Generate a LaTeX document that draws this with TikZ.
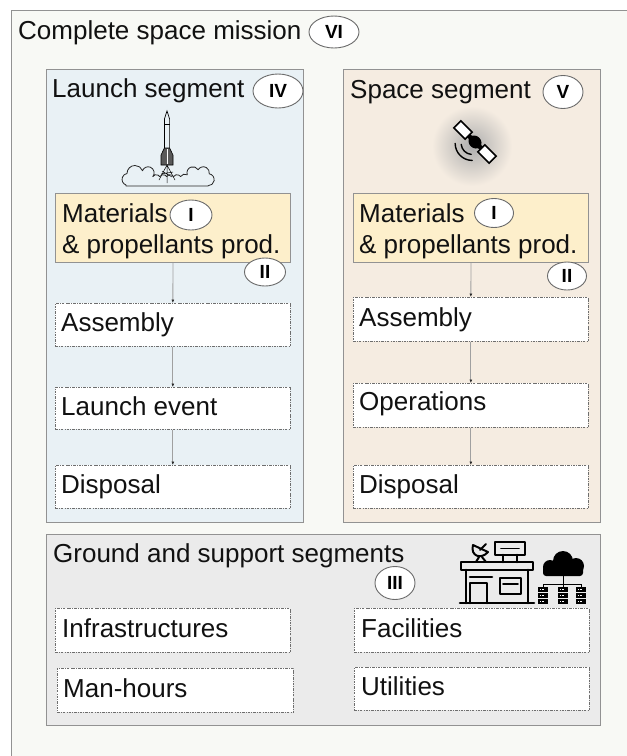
\documentclass[tikz,border=0pt]{standalone}
\usepackage{fontspec}
\setmainfont{Liberation Sans}
\usetikzlibrary{shapes.geometric,arrows.meta}
\definecolor{outerfill}{HTML}{F8F9F5}
\definecolor{launchfill}{HTML}{E9F1F5}
\definecolor{spacefill}{HTML}{F5ECE1}
\definecolor{matfill}{HTML}{FDEFCB}
\definecolor{groundfill}{HTML}{EBEBEB}
\definecolor{framecol}{HTML}{929292}
\definecolor{dashcol}{HTML}{6E6E6E}
\definecolor{txtcol}{HTML}{111111}
\definecolor{ellcol}{HTML}{6A6A6A}
\definecolor{flowcol}{HTML}{A0A0A0}
\tikzset{
  panel/.style={draw=framecol, line width=1.1pt, inner sep=0pt, anchor=north west},
  stepbox/.style={draw=dashcol, fill=white, line width=0.7pt,
    dash pattern=on 2.5pt off 1.2pt on 0.7pt off 1.2pt, inner sep=0pt, anchor=north west},
  lbl/.style={anchor=base west, inner sep=0pt, text=txtcol, font=\fontsize{26}{30}\selectfont},
  rn/.style={ellipse, draw=ellcol, fill=white, line width=0.9pt, inner sep=0pt,
    text=black, font=\fontsize{19}{19}\selectfont\bfseries},
  flow/.style={draw=flowcol, line width=0.8pt, -{Latex[length=3.5pt,width=3pt,color=black!85]}},
  icon/.style={draw=black, line width=2.6pt, line cap=round, line join=round}
}
\begin{document}
\begin{tikzpicture}[x=1pt,y=-1pt]
\useasboundingbox (0,0) rectangle (627,756);
\clip (0,0) rectangle (627,756);
\fill[white] (0,0) rectangle (627,756);

% outer panel
\node[panel, fill=outerfill, minimum width=640pt, minimum height=770pt] (mission) at (11,10) {};
\node[lbl] (tmission) at (18,39) {Complete space mission};
\node[rn, minimum width=50pt, minimum height=32pt] (rVI) at (334,32) {VI};

% launch segment
\node[panel, fill=launchfill, minimum width=257pt, minimum height=453pt] (launch) at (46,69) {};
\node[lbl] (tlaunch) at (52,97) {Launch segment};
\node[rn, minimum width=50pt, minimum height=34pt] (rIV) at (278,91) {IV};

% space segment
\node[panel, fill=spacefill, minimum width=257pt, minimum height=453pt] (space) at (343,69) {};
\node[lbl] (tspace) at (350,98) {Space segment};
\node[rn, minimum width=40pt, minimum height=33pt] (rV) at (563,92) {V};

% ground segment
\node[panel, fill=groundfill, minimum width=554pt, minimum height=191pt] (ground) at (46,534) {};
\node[lbl] (tground) at (53,562) {Ground and support segments};

% materials boxes
\node[panel, fill=matfill, line width=0.9pt, minimum width=235pt, minimum height=69pt] (matL) at (55,193) {};
\node[lbl] (tmatL1) at (62,222) {Materials};
\node[lbl] (tmatL2) at (62,253) {\& propellants prod.};
\node[rn, minimum width=42pt, minimum height=30pt] (rIL) at (191,215) {I};
\node[rn, minimum width=41pt, minimum height=28pt] (rIIL) at (265,272) {II};

\node[panel, fill=matfill, line width=0.9pt, minimum width=235pt, minimum height=69pt] (matR) at (353,193) {};
\node[lbl] (tmatR1) at (359,222) {Materials};
\node[lbl] (tmatR2) at (359,253) {\& propellants prod.};
\node[rn, minimum width=39pt, minimum height=29pt] (rIR) at (494,213) {I};
\node[rn, minimum width=39pt, minimum height=28pt] (rIIR) at (567,276) {II};

% launch steps
\node[stepbox, minimum width=235pt, minimum height=43pt] (asmL) at (55,303) {};
\node[lbl] (tasmL) at (61,331) {Assembly};
\node[stepbox, minimum width=235pt, minimum height=42pt] (evtL) at (55,387) {};
\node[lbl] (tevtL) at (61,415) {Launch event};
\node[stepbox, minimum width=235pt, minimum height=43pt] (dspL) at (55,465) {};
\node[lbl] (tdspL) at (61,493) {Disposal};

% space steps
\node[stepbox, minimum width=235pt, minimum height=44pt] (asmR) at (353,297) {};
\node[lbl] (tasmR) at (359,326) {Assembly};
\node[stepbox, minimum width=235pt, minimum height=44pt] (opsR) at (353,383) {};
\node[lbl] (topsR) at (359,410) {Operations};
\node[stepbox, minimum width=235pt, minimum height=43pt] (dspR) at (353,465) {};
\node[lbl] (tdspR) at (359,493) {Disposal};

% ground items
\node[stepbox, minimum width=235pt, minimum height=44pt] (infra) at (55,608) {};
\node[lbl] (tinfra) at (62,637) {Infrastructures};
\node[stepbox, minimum width=236pt, minimum height=44pt] (manh) at (57,668) {};
\node[lbl] (tmanh) at (63,697) {Man-hours};
\node[stepbox, minimum width=235pt, minimum height=44pt] (facil) at (354,608) {};
\node[lbl] (tfacil) at (361,637) {Facilities};
\node[stepbox, minimum width=235pt, minimum height=43pt] (util) at (354,667) {};
\node[lbl] (tutil) at (361,695) {Utilities};
\node[rn, minimum width=40pt, minimum height=33pt] (rIII) at (395,583) {III};

% flows
\draw[flow] (matL.south) -- (asmL.north);
\draw[flow] (asmL.south) -- (evtL.north);
\draw[flow] (evtL.south) -- (dspL.north);
\draw[flow] (matR.south) -- (asmR.north);
\draw[flow] (asmR.south) -- (opsR.north);
\draw[flow] (opsR.south) -- (dspR.north);

% rocket icon
\begin{scope}[shift={(167,186)}, y=1pt]
  \draw[line width=0.7pt, fill=launchfill] (0,75) -- (2.6,67) -- (2.6,34) -- (-2.6,34) -- (-2.6,67) -- cycle;
  \draw[line width=0.5pt] (-2.6,62) -- (2.6,62);
  \filldraw[fill=black!65, draw=black, line width=0.6pt] (-6,21) -- (-6,31) -- (-2.6,38) -- (2.6,38) -- (6,31) -- (6,21) -- cycle;
  \draw[white, line width=0.4pt] (0,22) -- (0,37);
  \draw[line width=0.5pt] (0,21) -- (-8,6) (0,21) -- (0,3) (0,21) -- (8,6)
     (-6,12) -- (6,14) (-5,15) -- (5,9);
  \draw[line width=0.8pt, draw=black!85, line join=round]
    (-41,1) arc[start angle=250, end angle=100, radius=6]
    arc[start angle=180, end angle=20, radius=8]
    arc[start angle=160, end angle=-40, radius=6]
    arc[start angle=150, end angle=30, radius=4]
    arc[start angle=150, end angle=30, radius=4]
    arc[start angle=150, end angle=30, radius=4]
    arc[start angle=150, end angle=30, radius=4]
    arc[start angle=150, end angle=60, radius=5]
    arc[start angle=200, end angle=30, radius=6]
    arc[start angle=150, end angle=-10, radius=6]
    arc[start angle=80, end angle=-90, radius=6]
    -- (41,0) -- (-41,0) -- cycle;
\end{scope}

% satellite icon
\shade[inner color=black!32, outer color=spacefill] (472,146) circle (40pt);
\begin{scope}[shift={(475,142)}, y=1pt, rotate=-45]
  \filldraw[fill=white, draw=black, line width=1.6pt] (-25,-5) rectangle (-9,5);
  \filldraw[fill=white, draw=black, line width=1.6pt] (9,-5) rectangle (25,5);
  \fill[black] (-9,-2.2) rectangle (9,2.2);
  \fill[black] (0,0) ellipse [x radius=7pt, y radius=6pt];
  \draw[line width=1.4pt, line cap=round] ([shift={(-1,-3)}]230:11) arc[start angle=230, end angle=310, radius=11];
  \draw[line width=1.4pt, line cap=round] ([shift={(-1,-3)}]225:17) arc[start angle=225, end angle=315, radius=17];
\end{scope}

% building icon
\draw[icon] (461,562) rectangle (533,570);
\draw[icon] (466,570) -- (466,603) (528,570) -- (528,603);
\draw[icon] (460,603) -- (534,603);
\draw[icon] (470,603) -- (470,583) -- (487,583) -- (487,603);
\draw[icon] (470,577) -- (492,577);
\draw[icon] (500,578) rectangle (521,594);
\draw[icon, line width=1.8pt] (503,584) -- (518,584);
\draw[icon] (495,542) rectangle (525,555);
\draw[icon, line width=1.8pt] (501,548.5) -- (519,548.5);
\draw[icon] (503,555) -- (503,562) (517,555) -- (517,562);
\draw[icon, line width=2pt] (473,545) .. controls (470,556) and (481,560) .. (488,552) -- cycle;
\draw[icon, line width=1.8pt] (480,550) -- (486,544);
\draw[icon, line width=2pt] (479,557) -- (476,562) (482,557) -- (486,562);

% cloud and servers icon
\fill[black] (550,567) circle (7pt);
\fill[black] (563,561) circle (10pt);
\fill[black] (576,566) circle (8pt);
\fill[black, rounded corners=3pt] (543,566) rectangle (583,576);
\draw[line width=1pt] (563,575) -- (563,584) (543,584) -- (581,584)
  (543,584) -- (543,587) (563,584) -- (563,587) (581,584) -- (581,587);
\foreach \sx in {538,558,576} {
  \foreach \sy in {587,593,599} {
    \fill[black] (\sx,\sy) rectangle (\sx+10,\sy+5);
    \fill[white] (\sx+1.5,\sy+2) rectangle (\sx+3,\sy+3);
    \fill[white] (\sx+4,\sy+2) rectangle (\sx+5.5,\sy+3);
  }
}
\end{tikzpicture}
\end{document}
